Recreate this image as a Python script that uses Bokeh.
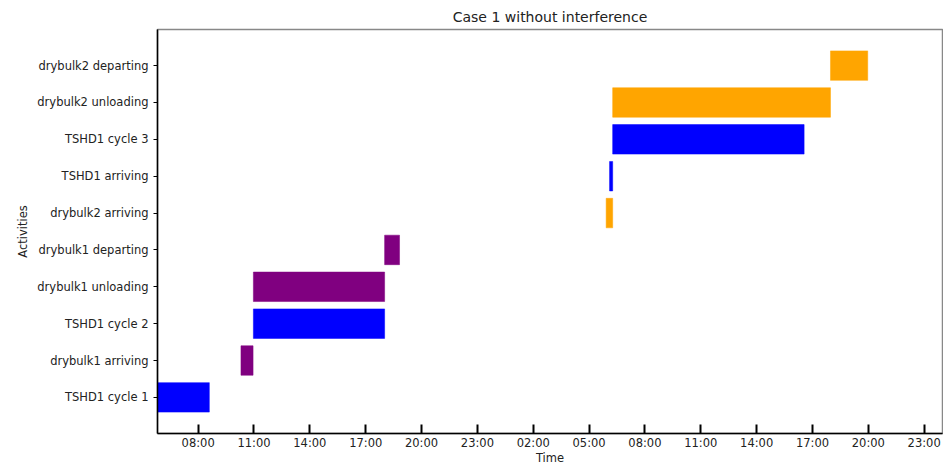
from datetime import datetime
from bokeh.plotting import figure
from bokeh.models import ColumnDataSource, FactorRange, Range1d, FixedTicker, DatetimeTickFormatter
from bokeh.embed import file_html
from bokeh.resources import INLINE

# ---- data ----
activities = [
    "TSHD1 cycle 1", "drybulk1 arriving", "TSHD1 cycle 2", "drybulk1 unloading",
    "drybulk1 departing", "drybulk2 arriving", "TSHD1 arriving", "TSHD1 cycle 3",
    "drybulk2 unloading", "drybulk2 departing",
]
starts = [
    "2024-01-01 05:49", "2024-01-01 10:18", "2024-01-01 10:58", "2024-01-01 10:58",
    "2024-01-01 18:01", "2024-01-02 05:55", "2024-01-02 06:06", "2024-01-02 06:16",
    "2024-01-02 06:16", "2024-01-02 17:58",
]
ends = [
    "2024-01-01 08:36", "2024-01-01 10:57", "2024-01-01 18:01", "2024-01-01 18:01",
    "2024-01-01 18:49", "2024-01-02 06:16", "2024-01-02 06:16", "2024-01-02 16:33",
    "2024-01-02 17:58", "2024-01-02 19:58",
]
colors = [
    "blue", "purple", "blue", "purple", "purple",
    "orange", "blue", "blue", "orange", "orange",
]
tick_times = [
    "2024-01-01 08:00", "2024-01-01 11:00", "2024-01-01 14:00", "2024-01-01 17:00",
    "2024-01-01 20:00", "2024-01-01 23:00", "2024-01-02 02:00", "2024-01-02 05:00",
    "2024-01-02 08:00", "2024-01-02 11:00", "2024-01-02 14:00", "2024-01-02 17:00",
    "2024-01-02 20:00", "2024-01-02 23:00",
]
x_start = "2024-01-01 05:49"
x_end = "2024-01-02 23:59"

fmt = "%Y-%m-%d %H:%M"
def to_dt(s):
    return datetime.strptime(s, fmt)
def to_ms(s):
    return (to_dt(s) - datetime(1970, 1, 1)).total_seconds() * 1000.0

src = ColumnDataSource(dict(
    y=activities,
    left=[to_dt(s) for s in starts],
    right=[to_dt(s) for s in ends],
    color=colors,
))

FONT = "DejaVu Sans"

p = figure(
    width=943, height=467,
    x_axis_type="datetime",
    x_range=Range1d(to_ms(x_start), to_ms(x_end)),
    y_range=FactorRange(factors=activities, range_padding=0.48, range_padding_units="absolute"),
    output_backend="svg", toolbar_location=None,
    title="Case 1 without interference",
    min_border_left=157, min_border_right=1, min_border_top=29, min_border_bottom=30,
)

p.hbar(y="y", left="left", right="right", height=0.8, fill_color="color",
       line_color="color", line_alpha=0.5, source=src)

p.title.align = "center"
p.title.text_font = FONT
p.title.text_font_size = "14px"
p.title.text_font_style = "normal"
p.title.text_color = "#222222"

p.xgrid.visible = False
p.ygrid.visible = False
p.outline_line_color = "#888888"
p.outline_line_width = 1.5

xa = p.xaxis[0]
xa.ticker = FixedTicker(ticks=[to_ms(t) for t in tick_times])
xa.formatter = DatetimeTickFormatter(hours="%H:%M", days="%H:%M", minutes="%H:%M", hourmin="%H:%M")
xa.axis_label = "Time"
xa.major_tick_in = 9
xa.major_tick_out = 0
xa.major_tick_line_width = 2
xa.minor_tick_line_color = None
xa.major_label_standoff = 2

ya = p.yaxis[0]
ya.axis_label = "Activities"
ya.major_tick_in = 0
ya.major_tick_out = 4
ya.major_tick_line_width = 1
ya.major_label_standoff = 5

for ax in (xa, ya):
    ax.axis_line_color = "black"
    ax.axis_line_width = 1.5
    ax.major_tick_line_color = "black"
    ax.major_label_text_font = FONT
    ax.major_label_text_font_size = "11.5px"
    ax.major_label_text_color = "#222222"
    ax.axis_label_text_font = FONT
    ax.axis_label_text_font_size = "11.5px"
    ax.axis_label_text_font_style = "normal"
    ax.axis_label_text_color = "#222222"
xa.axis_label_standoff = -2
ya.axis_label_standoff = 4

open("out.html", "w").write(file_html(p, INLINE))
